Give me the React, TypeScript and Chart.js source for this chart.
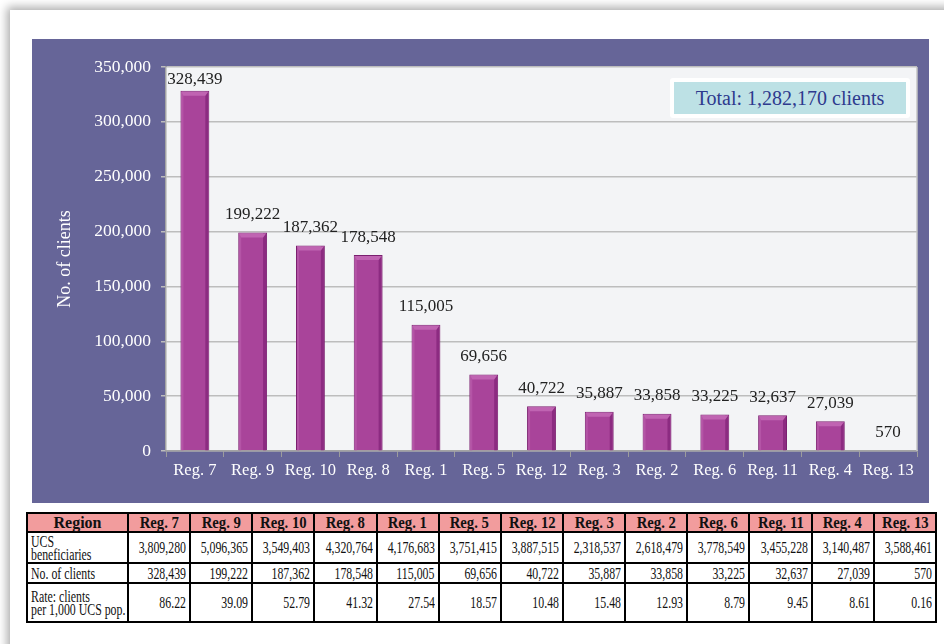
import React, { useEffect, useRef } from "react";
import { Chart, registerables } from "chart.js";

Chart.register(...registerables);

const regions = ["Reg. 7", "Reg. 9", "Reg. 10", "Reg. 8", "Reg. 1", "Reg. 5", "Reg. 12", "Reg. 3", "Reg. 2", "Reg. 6", "Reg. 11", "Reg. 4", "Reg. 13"];
const clients = [328439, 199222, 187362, 178548, 115005, 69656, 40722, 35887, 33858, 33225, 32637, 27039, 570];
const ucsBeneficiaries = [3809280, 5096365, 3549403, 4320764, 4176683, 3751415, 3887515, 2318537, 2618479, 3778549, 3455228, 3140487, 3588461];
const rates = [86.22, 39.09, 52.79, 41.32, 27.54, 18.57, 10.48, 15.48, 12.93, 8.79, 9.45, 8.61, 0.16];
const yMax = 350000;
const yStep = 50000;
const totalClients = 1282170;
const yTitle = "No. of clients";

const SERIF = "'Liberation Serif', 'Times New Roman', serif";
const fmt = (n: number) => n.toLocaleString("en-US");

const panelPlugin = {
  id: "panelBg",
  beforeDraw(chart: any) {
    const { ctx, chartArea: a } = chart;
    ctx.save();
    ctx.fillStyle = "#f3f4f6";
    ctx.fillRect(a.left, a.top, a.right - a.left, a.bottom - a.top);
    ctx.restore();
  },
  afterDraw(chart: any) {
    const { ctx, chartArea: a } = chart;
    ctx.save();
    ctx.strokeStyle = "#c4c4c4";
    ctx.lineWidth = 1.5;
    ctx.beginPath();
    ctx.moveTo(a.right, a.top);
    ctx.lineTo(a.right, a.bottom);
    ctx.stroke();
    ctx.restore();
  },
};

const barDecor = {
  id: "barDecor",
  afterDatasetsDraw(chart: any) {
    const { ctx, chartArea: a } = chart;
    const meta = chart.getDatasetMeta(0);
    ctx.save();
    meta.data.forEach((bar: any, i: number) => {
      const { x, y, base, width } = bar.getProps(["x", "y", "base", "width"], true);
      const l = x - width / 2;
      const r = x + width / 2;
      const h = base - y;
      if (h > 4) {
        const bev = Math.min(5, h / 2);
        ctx.fillStyle = "#b454a6";
        ctx.fillRect(l + 1, y + 1, 2, h - 1);
        ctx.fillStyle = "#8c2b81";
        ctx.fillRect(r - 4, y + 1, 3, h - 1);
        ctx.fillStyle = "#c064b2";
        ctx.beginPath();
        ctx.moveTo(l + 1, y + 1);
        ctx.lineTo(r - 1, y + 1);
        ctx.lineTo(r - 4, y + bev);
        ctx.lineTo(l + 3, y + bev);
        ctx.closePath();
        ctx.fill();
      }
      const ly = Math.max(y - 18, a.top + 13);
      ctx.fillStyle = "#222";
      ctx.font = `17px ${SERIF}`;
      ctx.textAlign = "center";
      ctx.textBaseline = "middle";
      ctx.fillText(fmt(clients[i]), x, ly);
    });
    ctx.restore();
  },
};

function BarChart() {
  const ref = useRef<HTMLCanvasElement | null>(null);
  useEffect(() => {
    if (!ref.current) return;
    const chart = new Chart(ref.current, {
      type: "bar",
      data: {
        labels: regions,
        datasets: [
          {
            data: clients,
            backgroundColor: "#a9449a",
            borderColor: "#7a1f6f",
            borderWidth: 1,
            barPercentage: 0.5,
            categoryPercentage: 1,
          },
        ],
      },
      options: {
        responsive: false,
        animation: false,
        layout: { padding: { left: 0, top: 28, right: 12, bottom: 0 } },
        plugins: { legend: { display: false }, tooltip: { enabled: false } },
        scales: {
          x: {
            grid: { display: true, drawOnChartArea: false, drawTicks: true, tickLength: 6, color: "#9c9c9c", offset: true },
            border: { display: true, color: "#a3a3a3", width: 1.5 },
            ticks: { color: "#ffffff", font: { family: SERIF, size: 16.5 }, padding: 4, maxRotation: 0, autoSkip: false },
            afterFit: (s: any) => {
              s.height = 52;
            },
          },
          y: {
            min: 0,
            max: yMax,
            ticks: {
              stepSize: yStep,
              color: "#ffffff",
              font: { family: SERIF, size: 17.5 },
              padding: 10,
              callback: (v: any) => fmt(Number(v)),
            },
            grid: { color: "#bdbdbd", lineWidth: 1.5, tickLength: 5, drawTicks: true },
            border: { display: true, color: "#a3a3a3", width: 1.5 },
            title: { display: true, text: yTitle, color: "#ffffff", font: { family: SERIF, size: 18 }, padding: { top: 22, bottom: 0 } },
            afterFit: (s: any) => {
              s.width = 134;
            },
          },
        },
      },
      plugins: [panelPlugin, barDecor],
    });
    return () => chart.destroy();
  }, []);
  return <canvas ref={ref} width={897} height={464} style={{ display: "block" }} />;
}

const cellBase: React.CSSProperties = {
  border: "2px solid #000",
  padding: "0 3px",
  fontFamily: SERIF,
  fontSize: 16,
  color: "#111",
  whiteSpace: "nowrap",
};

function Cond({ children, right }: { children: React.ReactNode; right: boolean }) {
  return (
    <div style={{ display: "flex", justifyContent: right ? "flex-end" : "flex-start", alignItems: "center" }}>
      <span
        style={{
          display: "inline-block",
          flex: "none",
          transform: "scaleX(0.74)",
          transformOrigin: right ? "right center" : "left center",
          lineHeight: "13px",
          textAlign: right ? "right" : "left",
        }}
      >
        {children}
      </span>
    </div>
  );
}

function DataTable() {
  const rowLabel = (content: React.ReactNode) => (
    <td style={{ ...cellBase }}>
      <Cond right={false}>{content}</Cond>
    </td>
  );
  const num = (t: string, k: number) => (
    <td key={k} style={{ ...cellBase }}>
      <Cond right={true}>{t}</Cond>
    </td>
  );
  const head: React.CSSProperties = { ...cellBase, textAlign: "center", fontWeight: "bold", lineHeight: "15px", fontSize: 16 };
  return (
    <table
      style={{
        position: "absolute",
        left: 26,
        top: 512,
        width: 911,
        borderCollapse: "collapse",
        tableLayout: "fixed",
      }}
    >
      <colgroup>
        <col style={{ width: 101 }} />
        {regions.map((r) => (
          <col key={r} />
        ))}
      </colgroup>
      <tbody>
        <tr style={{ height: 19, background: "#f29c9d" }}>
          <td style={head}>Region</td>
          {regions.map((r) => (
            <td key={r} style={head}>
              <span style={{ display: "inline-block", transform: "scaleX(0.92)" }}>{r}</span>
            </td>
          ))}
        </tr>
        <tr style={{ height: 31 }}>
          {rowLabel(
            <>
              UCS
              <br />
              beneficiaries
            </>
          )}
          {ucsBeneficiaries.map((v, i) => num(fmt(v), i))}
        </tr>
        <tr style={{ height: 20 }}>
          {rowLabel("No. of clients")}
          {clients.map((v, i) => num(fmt(v), i))}
        </tr>
        <tr style={{ height: 39 }}>
          {rowLabel(
            <>
              Rate: clients
              <br />
              per 1,000 UCS pop.
            </>
          )}
          {rates.map((v, i) => num(v.toFixed(2), i))}
        </tr>
      </tbody>
    </table>
  );
}

export default function App() {
  return (
    <div
      style={{
        position: "absolute",
        left: 0,
        top: 0,
        width: 944,
        height: 644,
        overflow: "hidden",
        background: "#ffffff",
      }}
    >
      <div
        style={{
          position: "absolute",
          left: 10,
          top: 10,
          width: 980,
          height: 700,
          background: "#ffffff",
          boxShadow: "0 0 9px 3px rgba(0,0,0,0.33)",
        }}
      />
      <div style={{ position: "absolute", left: 32, top: 39, width: 897, height: 464, background: "#666598" }}>
        <BarChart />
      </div>
      <div
        style={{
          position: "absolute",
          left: 670,
          top: 78,
          width: 240,
          height: 40,
          background: "#ffffff",
          borderRadius: 3,
          padding: 4,
          boxSizing: "border-box",
        }}
      >
        <div
          style={{
            width: "100%",
            height: "100%",
            background: "#bde1e5",
            color: "#2e3a8e",
            fontFamily: SERIF,
            fontSize: 20,
            display: "flex",
            alignItems: "center",
            justifyContent: "center",
          }}
        >
          Total: {fmt(totalClients)} clients
        </div>
      </div>
      <DataTable />
    </div>
  );
}
